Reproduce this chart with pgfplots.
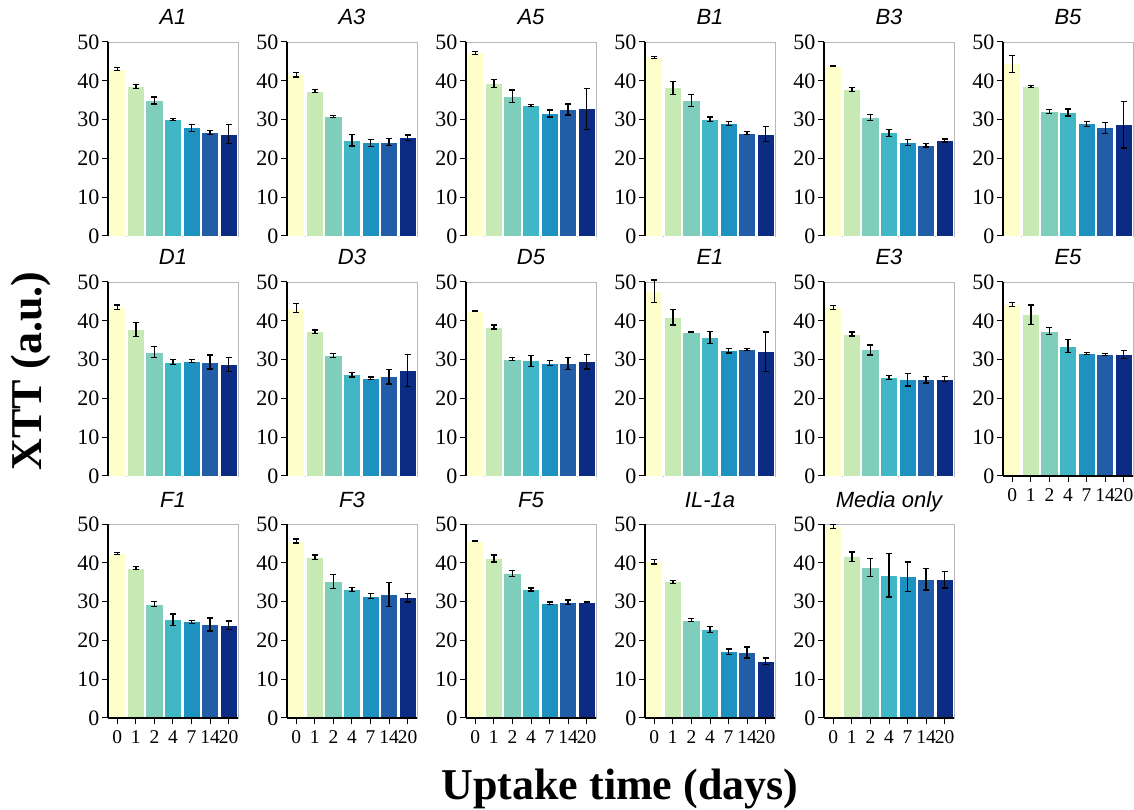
\documentclass[border=0pt]{standalone}
\usepackage{fontspec}
\setmainfont{Liberation Serif}
\newfontfamily\arialfont{Liberation Sans}
\usepackage{pgfplots}
\usepackage{pgfplotstable}
\pgfplotsset{compat=1.18}

\definecolor{c0}{HTML}{FFFFCC}
\definecolor{c1}{HTML}{C7E9B4}
\definecolor{c2}{HTML}{7FCDBB}
\definecolor{c3}{HTML}{41B6C4}
\definecolor{c4}{HTML}{1D91C0}
\definecolor{c5}{HTML}{225EA8}
\definecolor{c6}{HTML}{0C2C84}

% x = time index (0,1,2,4,7,14,20 days), y = XTT, e = error
\pgfplotstableread{
x y e
0 43.0 0.4
1 38.6 0.5
2 34.9 0.9
3 30.0 0.3
4 27.9 0.9
5 26.6 0.5
6 26.3 2.4
}\dAa
\pgfplotstableread{
x y e
0 41.6 0.6
1 37.3 0.4
2 30.8 0.3
3 24.7 1.5
4 24.0 0.9
5 24.2 0.9
6 25.3 0.7
}\dAb
\pgfplotstableread{
x y e
0 47.2 0.4
1 39.3 1.0
2 36.0 1.6
3 33.6 0.3
4 31.6 0.9
5 32.6 1.4
6 32.8 5.3
}\dAc
\pgfplotstableread{
x y e
0 46.0 0.2
1 38.2 1.7
2 34.9 1.5
3 30.1 0.6
4 29.0 0.5
5 26.5 0.4
6 26.3 2.0
}\dBa
\pgfplotstableread{
x y e
0 43.8 0.1
1 37.8 0.5
2 30.5 0.8
3 26.6 0.9
4 24.1 0.7
5 23.4 0.5
6 24.6 0.4
}\dBb
\pgfplotstableread{
x y e
0 44.4 2.2
1 38.5 0.2
2 32.1 0.5
3 31.8 0.9
4 28.9 0.6
5 27.9 1.4
6 28.7 6.0
}\dBc
\pgfplotstableread{
x y e
0 43.5 0.6
1 37.7 1.8
2 31.9 1.4
3 29.4 0.7
4 29.6 0.4
5 29.4 1.8
6 28.8 1.8
}\dDa
\pgfplotstableread{
x y e
0 43.3 1.2
1 37.2 0.4
2 31.1 0.5
3 26.1 0.6
4 25.2 0.3
5 25.6 1.9
6 27.2 4.2
}\dDb
\pgfplotstableread{
x y e
0 42.5 0.1
1 38.4 0.5
2 30.1 0.4
3 29.7 1.4
4 29.1 0.7
5 29.0 1.6
6 29.5 1.9
}\dDc
\pgfplotstableread{
x y e
0 47.6 2.9
1 40.9 2.0
2 37.1 0.1
3 35.7 1.5
4 32.3 0.6
5 32.6 0.2
6 32.0 5.1
}\dEa
\pgfplotstableread{
x y e
0 43.5 0.5
1 36.6 0.5
2 32.5 1.3
3 25.4 0.5
4 24.8 1.6
5 24.8 0.8
6 25.0 0.6
}\dEb
\pgfplotstableread{
x y e
0 44.2 0.5
1 41.6 2.5
2 37.3 0.9
3 33.5 1.7
4 31.6 0.3
5 31.3 0.3
6 31.3 1.0
}\dEc
\pgfplotstableread{
x y e
0 42.4 0.3
1 38.6 0.4
2 29.4 0.6
3 25.3 1.5
4 24.8 0.4
5 24.1 1.7
6 23.9 1.1
}\dFa
\pgfplotstableread{
x y e
0 45.6 0.5
1 41.4 0.6
2 35.1 1.8
3 33.1 0.5
4 31.4 0.6
5 31.8 3.1
6 31.0 1.1
}\dFb
\pgfplotstableread{
x y e
0 45.6 0.1
1 41.1 0.9
2 37.2 0.8
3 33.1 0.4
4 29.6 0.3
5 29.8 0.6
6 29.8 0.1
}\dFc
\pgfplotstableread{
x y e
0 40.3 0.6
1 35.1 0.4
2 25.2 0.4
3 22.8 0.8
4 17.1 0.7
5 16.9 1.4
6 14.6 0.9
}\dIL
\pgfplotstableread{
x y e
0 49.4 0.5
1 41.6 1.2
2 38.8 2.3
3 36.8 5.6
4 36.4 3.8
5 35.8 2.8
6 35.6 2.1
}\dMed

\pgfplotsset{
  panel/.style={
    scale only axis, width=130pt, height=194pt, anchor=south west,
    xmin=-0.5, xmax=6.5, ymin=0, ymax=50,
    ybar, bar width=0.92, bar shift=0pt,
    ytick={0,10,...,50}, xtick=\empty,
    ytick pos=left, xtick pos=bottom, tick align=outside,
    major tick length=6pt, tick style={black, line width=1pt},
    axis line style={draw=black!28, line width=0.8pt},
    yticklabel style={font=\fontsize{22}{22}\selectfont, xshift=1pt},
    xticklabel style={font=\fontsize{19.5}{19.5}\selectfont, yshift=-3pt},
    /pgf/number format/assume math mode=true,
    title style={font=\arialfont\itshape\fontsize{22}{22}\selectfont,
      at={(0.5,1)}, anchor=base, yshift=11pt},
    clip=false,
    cycle list={{fill=c0,draw=white},{fill=c1,draw=white},{fill=c2,draw=white},
      {fill=c3,draw=white},{fill=c4,draw=white},{fill=c5,draw=white},{fill=c6,draw=white}},
  },
  bottomrow/.style={xtick={0,...,6}, xticklabels={0,1,2,4,7,14,20}},
}

\newcommand{\panel}[6]{%
\begin{axis}[panel, at={(#1pt,#2pt)}, title={#3}, #5]
\pgfplotsinvokeforeach{0,...,6}{%
  \addplot+[line width=0.8pt, x filter/.expression={abs(x-##1)<0.1 ? x : nan},
    error bars/.cd, y dir=both, y explicit,
    error bar style={black, line width=1.3pt},
    error mark options={black, line width=1.3pt, mark size=3pt, rotate=90}]
    table[x=x, y=y, y error=e]{#4};}
\draw[black, line width=2.2pt] (rel axis cs:0,0) -- (rel axis cs:0,1);
#6
\end{axis}}

\newcommand{\bline}{\draw[black, line width=2.2pt] (rel axis cs:0,0) -- (rel axis cs:1,0);}

\begin{document}
\begin{tikzpicture}
\useasboundingbox (0,0) rectangle (1134pt,810pt);
% row 1
\panel{108}{574}{A1}{\dAa}{}{}
\panel{287}{574}{A3}{\dAb}{}{}
\panel{466}{574}{A5}{\dAc}{}{}
\panel{645}{574}{B1}{\dBa}{}{}
\panel{824}{574}{B3}{\dBb}{}{}
\panel{1003}{574}{B5}{\dBc}{}{}
% row 2
\panel{108}{334}{D1}{\dDa}{}{}
\panel{287}{334}{D3}{\dDb}{}{}
\panel{466}{334}{D5}{\dDc}{}{}
\panel{645}{334}{E1}{\dEa}{}{}
\panel{824}{334}{E3}{\dEb}{}{}
\panel{1003}{334}{E5}{\dEc}{bottomrow}{\bline}
% row 3
\panel{108}{92}{F1}{\dFa}{bottomrow}{\bline}
\panel{287}{92}{F3}{\dFb}{bottomrow}{\bline}
\panel{466}{92}{F5}{\dFc}{bottomrow}{\bline}
\panel{645}{92}{IL-1a}{\dIL}{bottomrow}{\bline}
\panel{824}{92}{Media only}{\dMed}{bottomrow}{\bline}
\node[rotate=90, font=\bfseries\fontsize{44}{44}\selectfont] at (31pt,439pt) {XTT (a.u.)};
\node[anchor=base, font=\bfseries\fontsize{44}{44}\selectfont] at (620pt,10pt) {Uptake time (days)};
\end{tikzpicture}
\end{document}
